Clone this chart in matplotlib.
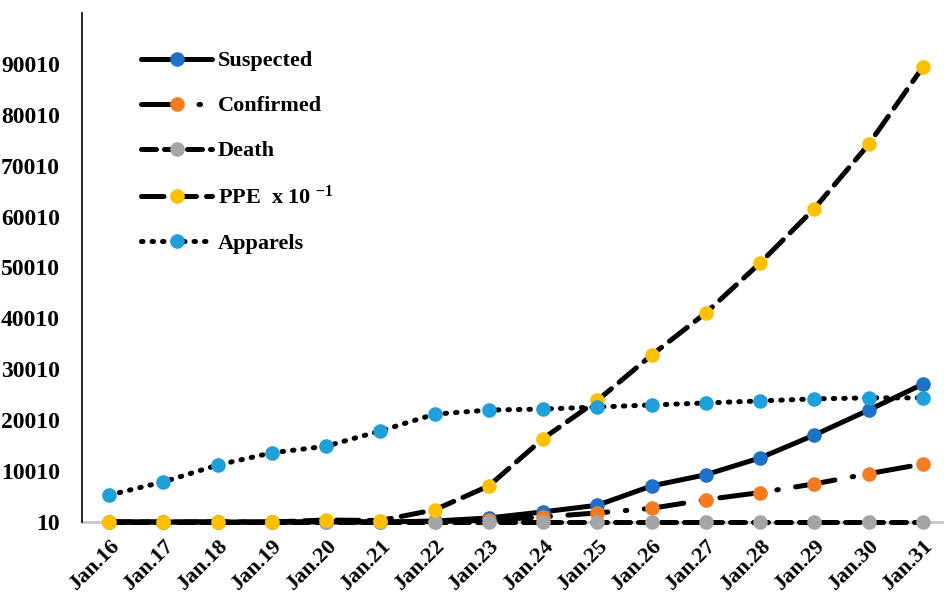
import numpy as np
import matplotlib.pyplot as plt

# data
dates = ['Jan.16', 'Jan.17', 'Jan.18', 'Jan.19', 'Jan.20', 'Jan.21', 'Jan.22', 'Jan.23',
         'Jan.24', 'Jan.25', 'Jan.26', 'Jan.27', 'Jan.28', 'Jan.29', 'Jan.30', 'Jan.31']
suspected = [10, 10, 10, 10, 10, 10, 200, 800, 2000, 3300, 7100, 9300, 12600, 17100, 22000, 27100]
confirmed = [10, 10, 10, 10, 40, 50, 100, 400, 1000, 1800, 2700, 4400, 5800, 7500, 9500, 11400]
death = [10, 10, 10, 10, 10, 10, 10, 10, 10, 10, 10, 10, 10, 10, 10, 10]
ppe = [10, 10, 10, 10, 400, 300, 2400, 7100, 16400, 23900, 32800, 41100, 50900, 61600, 74200, 89400]
apparels = [5300, 7900, 11200, 13600, 14900, 17900, 21200, 22000, 22200, 22600, 23000, 23400, 23800, 24200, 24400, 24400]
yticks = [10, 10010, 20010, 30010, 40010, 50010, 60010, 70010, 80010, 90010]

plt.rcParams['font.family'] = ['Liberation Serif', 'DejaVu Serif']
plt.rcParams['font.weight'] = 'bold'
plt.rcParams['mathtext.fontset'] = 'custom'
plt.rcParams['mathtext.rm'] = 'Liberation Serif:bold'
plt.rcParams['mathtext.bf'] = 'Liberation Serif:bold'
plt.rcParams['mathtext.default'] = 'bf'

fig = plt.figure(figsize=(9.45, 5.98), dpi=100)
ax = fig.add_axes([82 / 945, 76 / 598, 868 / 945, 509 / 598])

x = np.arange(len(dates))
lw = 3.6
ms = 9.5

series = [
    ('Suspected', suspected, '#1f70c8', (0, ())),
    ('Confirmed', confirmed, '#f47b20', (0, (8, 3.5, 0.3, 3.5))),
    ('Death', death, '#a5a5a5', (0, (3, 1.6))),
    ('PPE  x 10 $^{-1}$', ppe, '#ffc000', (0, (4.5, 2))),
    ('Apparels', apparels, '#1fa0db', (0, (0.3, 1.8))),
]

ax.axhline(10, color='#c8c8c8', lw=2, zorder=1, clip_on=False)

for i, (name, vals, col, ls) in enumerate(series):
    ax.plot(x, vals, color='black', lw=lw, linestyle=ls, dash_capstyle='round',
            marker='o', markersize=ms, markerfacecolor=col, markeredgecolor=col,
            label=name, zorder=2 + i, clip_on=False)

ax.set_xlim(-0.5, 15.5)
ax.set_ylim(10, 100010)
ax.set_yticks(yticks)
ax.set_yticklabels([str(v) for v in yticks], fontsize=17, fontweight='bold')
ax.set_xticks(x)
ax.set_xticklabels(dates, rotation=45, ha='right', rotation_mode='anchor',
                   fontsize=16, fontweight='bold')
ax.tick_params(axis='both', length=0)
ax.tick_params(axis='y', pad=16)
ax.tick_params(axis='x', pad=10)

for s in ['top', 'right', 'bottom']:
    ax.spines[s].set_visible(False)
ax.spines['left'].set_linewidth(1.2)

ax.legend(loc='upper left', bbox_to_anchor=(0.045, 0.965), frameon=False, numpoints=1,
          handlelength=3.2, labelspacing=1.1, handletextpad=0.25,
          prop={'size': 16, 'weight': 'bold'})

plt.savefig('out.png', dpi=100)
